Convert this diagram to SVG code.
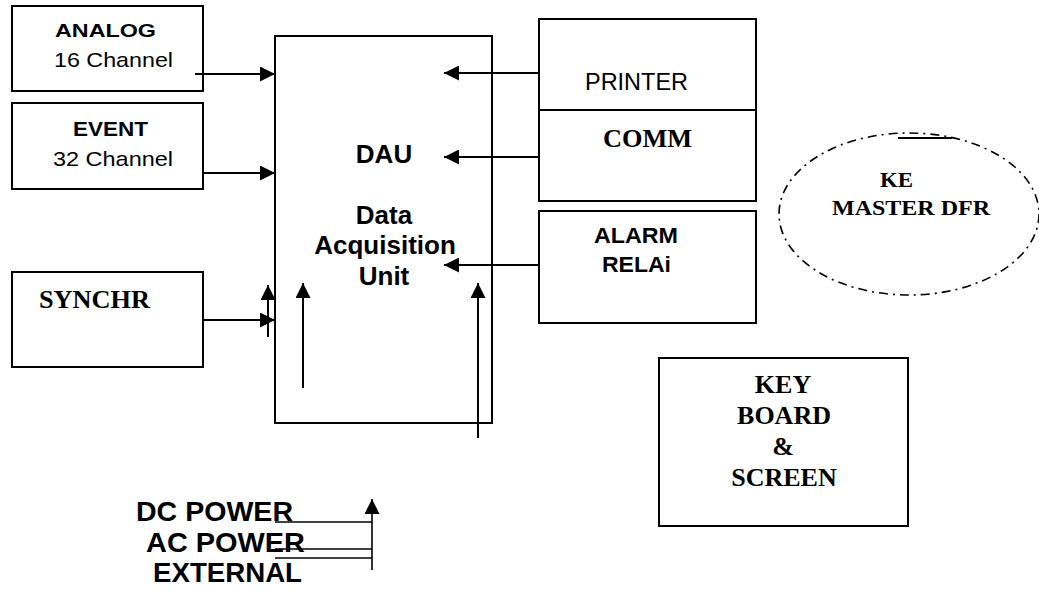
<svg xmlns="http://www.w3.org/2000/svg" width="1039" height="590" viewBox="0 0 1039 590">
<style>
.box{fill:none;stroke:#000;stroke-width:2}
.ln{fill:none;stroke:#000;stroke-width:2}
.thin{fill:none;stroke:#000;stroke-width:1.6}
.sb{font-family:"Liberation Sans",Arial,sans-serif;font-weight:bold;fill:#000}
.sr{font-family:"Liberation Sans",Arial,sans-serif;fill:#000}
.tb{font-family:"Liberation Serif","Times New Roman",serif;font-weight:bold;fill:#000}
</style>
<defs>
<marker id="ah" markerUnits="userSpaceOnUse" markerWidth="15" markerHeight="15" viewBox="0 0 15 15" refX="15" refY="7.5" orient="auto">
<path d="M0,0 L15,7.5 L0,15 z" fill="#000"/>
</marker>
</defs>
<rect width="1039" height="590" fill="#fff"/>

<g id="analog">
<rect class="box" x="12" y="6" width="191" height="85"/>
<text class="sb" x="55" y="37" font-size="19" textLength="101" lengthAdjust="spacingAndGlyphs">ANALOG</text>
<text class="sr" x="54" y="67" font-size="21" textLength="119" lengthAdjust="spacingAndGlyphs">16 Channel</text>
</g>

<g id="event">
<rect class="box" x="12" y="103" width="191" height="86"/>
<text class="sb" x="73" y="136" font-size="21" textLength="75" lengthAdjust="spacingAndGlyphs">EVENT</text>
<text class="sr" x="53" y="166" font-size="21" textLength="120" lengthAdjust="spacingAndGlyphs">32 Channel</text>
</g>

<g id="synchr">
<rect class="box" x="12" y="272" width="191" height="95"/>
<text class="tb" x="39" y="308" font-size="26" textLength="111" lengthAdjust="spacingAndGlyphs">SYNCHR</text>
</g>

<g id="dau">
<rect class="box" x="275" y="36" width="217" height="387"/>
<text class="sb" x="384" y="163" font-size="26" text-anchor="middle">DAU</text>
<text class="sb" x="384" y="224" font-size="26" text-anchor="middle">Data</text>
<text class="sb" x="385" y="254" font-size="26" text-anchor="middle">Acquisition</text>
<text class="sb" x="384" y="285" font-size="26" text-anchor="middle">Unit</text>
</g>

<g id="printer-comm">
<rect class="box" x="539" y="19" width="217" height="182"/>
<line class="box" x1="539" y1="110" x2="756" y2="110"/>
<text class="sr" x="585" y="90" font-size="23.5" textLength="103" lengthAdjust="spacingAndGlyphs">PRINTER</text>
<text class="tb" x="603" y="147" font-size="26" textLength="89" lengthAdjust="spacingAndGlyphs">COMM</text>
</g>

<g id="alarm">
<rect class="box" x="539" y="211" width="217" height="112"/>
<text class="sb" x="594" y="243" font-size="22.5" textLength="84" lengthAdjust="spacingAndGlyphs">ALARM</text>
<text class="sb" x="602" y="272" font-size="22.5" textLength="69" lengthAdjust="spacingAndGlyphs">RELAi</text>
</g>

<g id="master-dfr">
<ellipse cx="909" cy="214" rx="130" ry="81" fill="none" stroke="#000" stroke-width="1.6" stroke-dasharray="9 5 2 5"/>
<line class="ln" x1="898" y1="138" x2="952" y2="138"/>
<text class="tb" x="880" y="187" font-size="22" textLength="33" lengthAdjust="spacingAndGlyphs">KE</text>
<text class="tb" x="832" y="215" font-size="22" textLength="158" lengthAdjust="spacingAndGlyphs">MASTER DFR</text>
</g>

<g id="keyboard">
<rect class="box" x="659" y="358" width="249" height="168"/>
<text class="tb" x="783" y="393" font-size="26" text-anchor="middle">KEY</text>
<text class="tb" x="784" y="424" font-size="26" text-anchor="middle">BOARD</text>
<text class="tb" x="783" y="455" font-size="26" text-anchor="middle">&amp;</text>
<text class="tb" x="784" y="486" font-size="26" text-anchor="middle">SCREEN</text>
</g>

<g id="power">
<text class="sb" x="136" y="521" font-size="27" textLength="157" lengthAdjust="spacingAndGlyphs">DC POWER</text>
<text class="sb" x="146" y="552" font-size="27" textLength="159" lengthAdjust="spacingAndGlyphs">AC POWER</text>
<text class="sb" x="153" y="582" font-size="27" textLength="149" lengthAdjust="spacingAndGlyphs">EXTERNAL</text>
</g>

<g id="connectors">
<line class="ln" x1="195" y1="74" x2="275" y2="74" marker-end="url(#ah)"/>
<line class="ln" x1="203" y1="173" x2="275" y2="173" marker-end="url(#ah)"/>
<line class="ln" x1="203" y1="320" x2="275" y2="320" marker-end="url(#ah)"/>
<line class="ln" x1="268" y1="337" x2="268" y2="285" marker-end="url(#ah)"/>
<line class="ln" x1="303" y1="388" x2="303" y2="283" marker-end="url(#ah)"/>
<line class="ln" x1="478" y1="438" x2="478" y2="283" marker-end="url(#ah)"/>
<line class="ln" x1="539" y1="73" x2="444" y2="73" marker-end="url(#ah)"/>
<line class="ln" x1="539" y1="157" x2="444" y2="157" marker-end="url(#ah)"/>
<line class="ln" x1="539" y1="265" x2="444" y2="265" marker-end="url(#ah)"/>
<line class="thin" x1="372" y1="570" x2="372" y2="499" marker-end="url(#ah)"/>
<line class="thin" x1="275" y1="522" x2="372" y2="522"/>
<line class="thin" x1="275" y1="549" x2="372" y2="549"/>
<line class="thin" x1="275" y1="558" x2="372" y2="558"/>
</g>
</svg>
